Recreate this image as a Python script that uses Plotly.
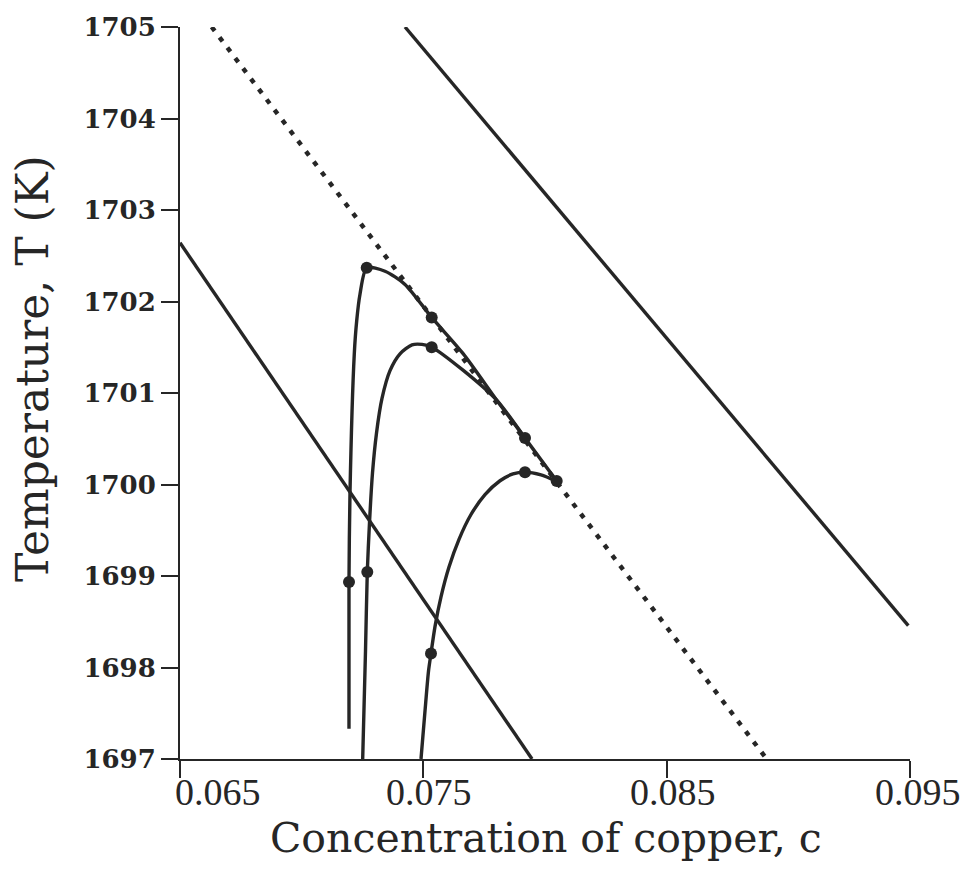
import plotly.graph_objects as go

# Concentration of copper (c) and temperature (K) along each computed path
path1_c = [0.071945, 0.071945, 0.071986, 0.072163, 0.072262, 0.072397, 0.072673,
           0.073425, 0.074247, 0.075344, 0.076643, 0.078015, 0.079178, 0.080481]
path1_T = [1697.33, 1698.935, 1699.91, 1701.43, 1701.79, 1702.079, 1702.368,
           1702.331, 1702.187, 1701.826, 1701.428, 1700.922, 1700.507, 1700.037]

path2_c = [0.072508, 0.072623, 0.072697, 0.072788, 0.072911, 0.073075, 0.073301,
           0.073630, 0.074041, 0.074534, 0.074945, 0.075344, 0.076643, 0.078015,
           0.079178]
path2_T = [1697.0, 1698.176, 1699.043, 1699.585, 1700.127, 1700.561, 1700.940,
           1701.244, 1701.428, 1701.526, 1701.531, 1701.501, 1701.247, 1700.922,
           1700.507]

path3_c = [0.074904, 0.075069, 0.075212, 0.075315, 0.075479, 0.075726, 0.076055,
           0.076466, 0.076959, 0.077534, 0.078151, 0.078685, 0.079178, 0.079836,
           0.080481]
path3_T = [1697.0, 1697.526, 1697.959, 1698.154, 1698.447, 1698.772, 1699.098,
           1699.401, 1699.672, 1699.889, 1700.041, 1700.116, 1700.135, 1700.106,
           1700.037]

# Marked states along the paths
dot_c = [0.071945, 0.072673, 0.075344, 0.079178, 0.080481,
         0.072697, 0.075344, 0.075315, 0.079178]
dot_T = [1698.935, 1702.368, 1701.826, 1700.507, 1700.037,
         1699.043, 1701.501, 1698.154, 1700.135]

# Straight boundary lines (end points)
left_c = [0.065, 0.079466]
left_T = [1702.642, 1697.0]
dotted_c = [0.066302, 0.089111]
dotted_T = [1705.0, 1697.0]
right_c = [0.074247, 0.09493]
right_T = [1705.0, 1698.458]

x_ticks = [0.065, 0.075, 0.085, 0.095]
x_tick_text = ["0.065", "0.075", "0.085", "0.095"]
y_ticks = [1697, 1698, 1699, 1700, 1701, 1702, 1703, 1704, 1705]

INK = "#262626"
SERIF = "Liberation Serif"
TITLE_FONT = "DejaVu Serif"

fig = go.Figure()

line_style = dict(color=INK, width=3.4)
fig.add_trace(go.Scatter(x=left_c, y=left_T, mode="lines", line=line_style))
fig.add_trace(go.Scatter(x=right_c, y=right_T, mode="lines", line=line_style))
fig.add_trace(go.Scatter(x=dotted_c, y=dotted_T, mode="lines",
                         line=dict(color=INK, width=4.5, dash="5px,8px")))

for cx, ty in [(path1_c, path1_T), (path2_c, path2_T), (path3_c, path3_T)]:
    fig.add_trace(go.Scatter(x=cx, y=ty, mode="lines",
                             line=dict(color=INK, width=3.4, shape="spline", smoothing=0.7)))

fig.add_trace(go.Scatter(x=dot_c, y=dot_T, mode="markers",
                         marker=dict(color=INK, size=12, line=dict(width=0))))

# x tick labels, the first nudged clear of the y-axis corner
x_shift = [38, 6, 6, 8]
for xv, txt, sh in zip(x_ticks, x_tick_text, x_shift):
    fig.add_annotation(x=xv, y=0, xref="x", yref="paper", text=txt, showarrow=False,
                       xshift=sh, yshift=-33, yanchor="middle",
                       font=dict(family=SERIF, size=38, color=INK))

fig.add_annotation(x=0.5, y=0, xref="paper", yref="paper",
                   text="Concentration of copper, c", showarrow=False,
                   xshift=1, yshift=-79, yanchor="middle",
                   font=dict(family=TITLE_FONT, size=41, color=INK))
fig.add_annotation(x=0, y=0.5, xref="paper", yref="paper",
                   text="Temperature, T (K)", showarrow=False, textangle=-90,
                   xshift=-148, yshift=24, xanchor="center",
                   font=dict(family=TITLE_FONT, size=44, color=INK))

fig.update_layout(
    width=961, height=870,
    margin=dict(l=180, r=51, t=20, b=111),
    paper_bgcolor="white", plot_bgcolor="white",
    showlegend=False,
    xaxis=dict(range=[0.065, 0.095], tickvals=x_ticks, showticklabels=False,
               ticks="outside", ticklen=17, tickwidth=2, tickcolor=INK,
               showline=True, linewidth=2, linecolor=INK,
               showgrid=False, zeroline=False),
    yaxis=dict(range=[1697, 1705], tickvals=y_ticks,
               ticks="outside", ticklen=17, tickwidth=2, tickcolor=INK,
               showline=True, linewidth=2, linecolor=INK,
               showgrid=False, zeroline=False,
               tickfont=dict(family="DejaVu Serif", size=26, color=INK, weight="bold")),
)

fig.write_html("out.html")
